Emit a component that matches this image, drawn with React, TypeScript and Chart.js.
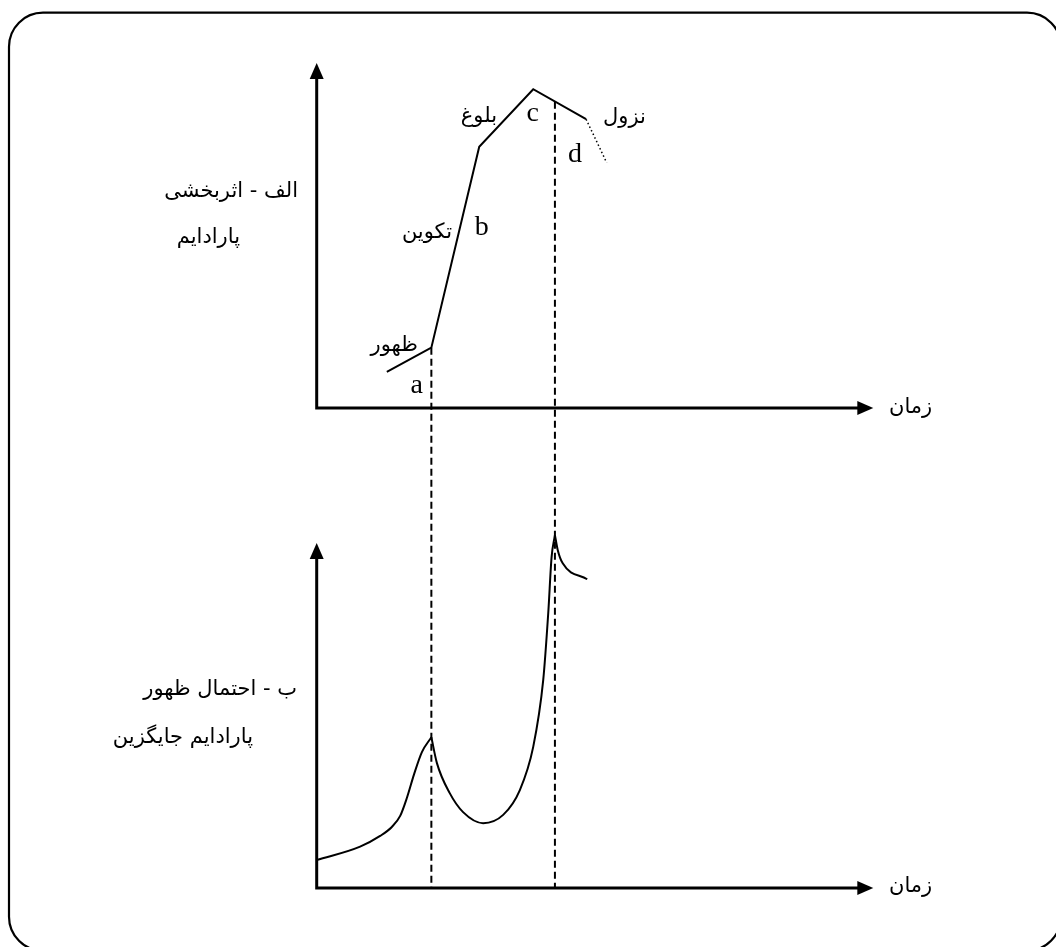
import React, { useEffect, useRef } from "react";
import { Chart, registerables } from "chart.js";

Chart.register(...registerables);

// ---- Data (abstract units: time 0..100, level 0..100 per panel) ----
// Panel الف: paradigm effectiveness over time
const upperTime = [12.6, 20.6, 29.2, 38.9, 48.4];
const upperEffect = [10.5, 17.5, 75.7, 92.4, 83.7];
// dotted decline continuation
const declineTime = [48.4, 52.1];
const declineEffect = [83.7, 71.1];

// Panel ب: probability of a replacement paradigm emerging
const lowerTime = [0, 7.8, 11.4, 13.5, 15.0, 16.2, 17.5, 18.9, 20.6, 21.6, 23.9, 26.3, 29.9, 33.5, 36.5, 38.9, 40.7, 41.6, 42.2, 42.8, 43.3, 44.2, 48.6];
const lowerProb = [8.1, 12.0, 15.1, 17.7, 20.9, 26.1, 33.0, 39.4, 43.7, 36.2, 27.5, 22.0, 18.8, 21.2, 28.4, 40.9, 60.3, 79.7, 95.9, 102.3, 98.0, 94.1, 89.5];

// Stage markers (dashed verticals)
const stageATime = 20.6;
const stageAEffect = 17.5;
const stageDTime = 42.8;
const stageDEffect = 88.8;

const persianFont = '"DejaVu Sans", sans-serif';
const latinFont = '"Liberation Serif", "Times New Roman", serif';

export default function App() {
  const ref = useRef<HTMLCanvasElement>(null);

  useEffect(() => {
    const canvas = ref.current!;
    const pts = (xs: number[], ys: number[]) => xs.map((x, i) => ({ x, y: ys[i] }));
    const aIdx = lowerTime.indexOf(stageATime);
    const dIdx = lowerTime.indexOf(stageDTime);
    const all = pts(lowerTime, lowerProb);

    const lineBase = {
      borderColor: "#000",
      borderWidth: 2,
      pointRadius: 0,
      fill: false,
      clip: false as any,
    };

    const overlay = {
      id: "overlay",
      afterDatasetsDraw(chart: any) {
        const ctx = chart.ctx as CanvasRenderingContext2D;
        const x = chart.scales.x;
        const yA = chart.scales.yA;
        const yB = chart.scales.yB;
        ctx.save();

        // rounded frame
        ctx.strokeStyle = "#000";
        ctx.lineWidth = 2.2;
        ctx.beginPath();
        (ctx as any).roundRect(9, 12.7, 1052, 938, 34);
        ctx.stroke();

        const drawAxes = (ys: any) => {
          const x0 = x.getPixelForValue(0);
          const x1 = x.getPixelForValue(100);
          const y0 = ys.getPixelForValue(0);
          const y1 = ys.getPixelForValue(100);
          ctx.lineWidth = 3;
          ctx.setLineDash([]);
          ctx.beginPath();
          ctx.moveTo(x0, y1 + 12);
          ctx.lineTo(x0, y0);
          ctx.lineTo(x1 - 12, y0);
          ctx.stroke();
          ctx.fillStyle = "#000";
          ctx.beginPath();
          ctx.moveTo(x0, y1);
          ctx.lineTo(x0 - 7, y1 + 16);
          ctx.lineTo(x0 + 7, y1 + 16);
          ctx.closePath();
          ctx.fill();
          ctx.beginPath();
          ctx.moveTo(x1, y0);
          ctx.lineTo(x1 - 16, y0 - 7);
          ctx.lineTo(x1 - 16, y0 + 7);
          ctx.closePath();
          ctx.fill();
        };
        drawAxes(yA);
        drawAxes(yB);

        // dashed stage lines
        ctx.lineWidth = 2;
        ctx.setLineDash([7, 4]);
        const dash = (t: number, e: number) => {
          const px = x.getPixelForValue(t);
          ctx.beginPath();
          ctx.moveTo(px, yA.getPixelForValue(e));
          ctx.lineTo(px, yB.getPixelForValue(0));
          ctx.stroke();
        };
        dash(stageATime, stageAEffect);
        dash(stageDTime, stageDEffect);
        ctx.setLineDash([]);

        // Persian labels
        ctx.fillStyle = "#000";
        ctx.font = `21px ${persianFont}`;
        ctx.textBaseline = "middle";
        const right = (t: string, rx: number, y: number) => {
          ctx.textAlign = "right";
          ctx.fillText(t, rx, y);
        };
        const left = (t: string, lx: number, y: number) => {
          ctx.textAlign = "left";
          ctx.fillText(t, lx, y);
        };
        right("الف - اثربخشی", 298, 192);
        right("پارادایم", 240, 238);
        right("ب - احتمال ظهور", 297, 690);
        right("پارادایم جایگزین", 253, 738);
        left("زمان", 889, 408);
        left("زمان", 889, 887);
        right("بلوغ", 497, 117);
        right("تکوین", 452, 233);
        right("ظهور", 418, 346);
        left("نزول", 603, 118);

        // Latin stage letters
        ctx.font = `28px ${latinFont}`;
        ctx.textBaseline = "alphabetic";
        ctx.textAlign = "center";
        ctx.fillText("a", 416.7, 393);
        ctx.fillText("b", 481.7, 235);
        ctx.fillText("c", 532.7, 120.7);
        ctx.fillText("d", 575, 161.7);

        ctx.restore();
      },
    };

    const chart = new Chart(canvas, {
      type: "line",
      data: {
        datasets: [
          { ...lineBase, data: pts(upperTime, upperEffect), yAxisID: "yA", tension: 0 },
          { ...lineBase, data: pts(declineTime, declineEffect), yAxisID: "yA", tension: 0, borderWidth: 1.5, borderDash: [1.5, 2.5] },
          { ...lineBase, data: all.slice(0, aIdx + 1), yAxisID: "yB", cubicInterpolationMode: "monotone" },
          { ...lineBase, data: all.slice(aIdx, dIdx + 1), yAxisID: "yB", cubicInterpolationMode: "monotone" },
          { ...lineBase, data: all.slice(dIdx), yAxisID: "yB", cubicInterpolationMode: "monotone" },
        ] as any,
      },
      options: {
        responsive: false,
        animation: false,
        devicePixelRatio: 1,
        parsing: false as any,
        layout: { padding: { left: 316.7, right: 182.7, top: 63, bottom: 59 } },
        plugins: { legend: { display: false }, tooltip: { enabled: false } },
        events: [],
        scales: {
          x: { type: "linear", min: 0, max: 100, display: false },
          yA: { type: "linear", min: -139.13, max: 100, display: false },
          yB: { type: "linear", min: 0, max: 239.13, display: false },
        },
      } as any,
      plugins: [overlay],
    });
    return () => chart.destroy();
  }, []);

  return (
    <div style={{ position: "fixed", left: 0, top: 0, width: 1056, height: 947, background: "#fff" }}>
      <canvas ref={ref} width={1056} height={947} style={{ display: "block", width: 1056, height: 947 }} />
    </div>
  );
}
